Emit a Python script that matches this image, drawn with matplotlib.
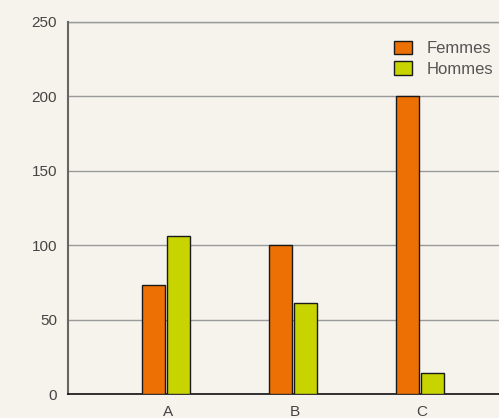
import matplotlib.pyplot as plt
import numpy as np

categories = ["A", "B", "C"]
femmes = [73, 100, 200]
hommes = [106, 61, 14]
yticks = [0, 50, 100, 150, 200, 250]

bg = "#f6f3ec"
text_col = "#444444"

plt.rcParams["font.family"] = ["Liberation Sans", "DejaVu Sans"]

fig = plt.figure(figsize=(4.99, 4.18), dpi=100, facecolor=bg)
ax = fig.add_axes([0.1363, 0.0574, 0.8637, 0.89])
ax.set_facecolor(bg)

x = np.arange(len(categories))
w = 0.18
ax.bar(x - 0.115, femmes, w, color="#ec7004", edgecolor="#1a1a1a", linewidth=1,
       label="Femmes", zorder=3)
ax.bar(x + 0.083, hommes, w, color="#c8d400", edgecolor="#1a1a1a", linewidth=1,
       label="Hommes", zorder=3)

ax.set_xlim(-0.787, 2.606)
ax.set_ylim(0, 250)
ax.set_yticks(yticks)
ax.set_xticks(x)
ax.set_xticklabels(categories)
ax.grid(axis="y", color="#9a9a9a", linewidth=1, zorder=1)
ax.axhline(250, color="#9a9a9a", linewidth=1, zorder=1, clip_on=False)

for s in ["top", "right"]:
    ax.spines[s].set_visible(False)
ax.spines["left"].set_color("#666666")
ax.spines["left"].set_linewidth(1.5)
ax.spines["bottom"].set_color("#111111")
ax.spines["bottom"].set_linewidth(1.2)
ax.tick_params(length=0, labelsize=11, colors=text_col)
ax.tick_params(axis="y", pad=7.8)
ax.tick_params(axis="x", pad=8)

ax.legend(loc="upper right", bbox_to_anchor=(1.009, 0.977), frameon=False,
          fontsize=12, labelcolor="#555555", handlelength=1.1, handleheight=0.9,
          handletextpad=0.85, labelspacing=0.3, borderaxespad=0.2)

fig.savefig("out.png", dpi=100, facecolor=bg)
